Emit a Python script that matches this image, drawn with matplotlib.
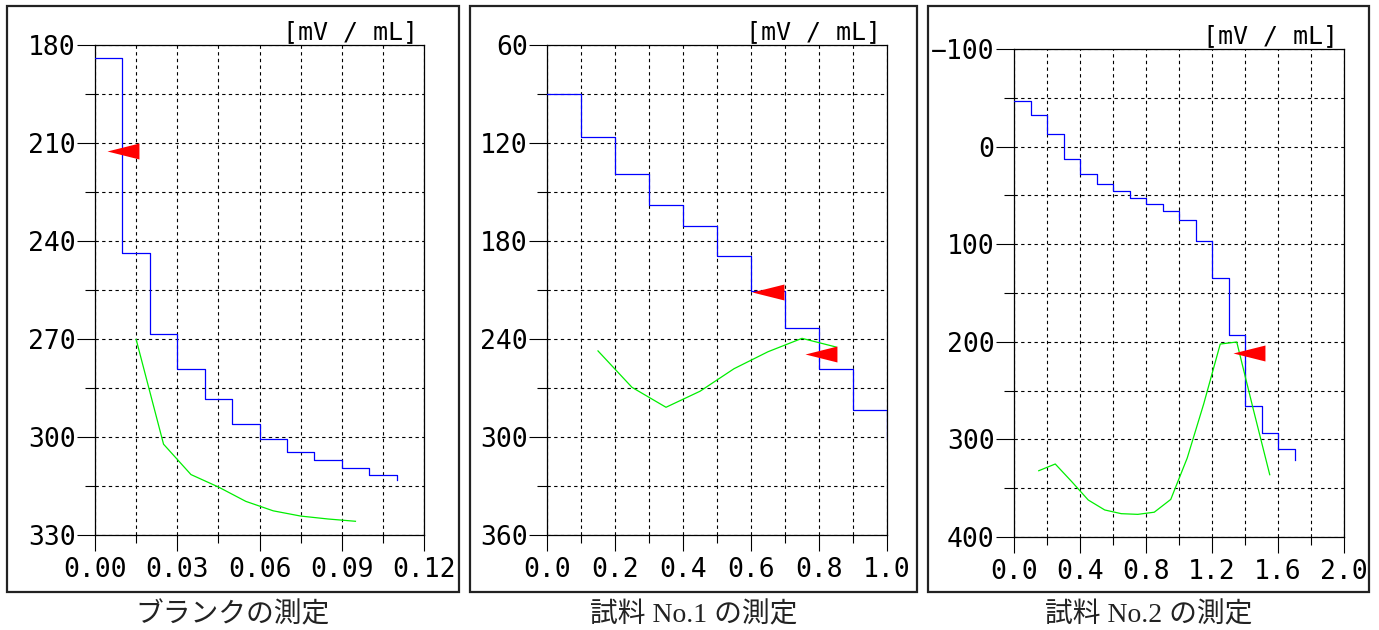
import matplotlib
matplotlib.use("Agg")
import matplotlib.pyplot as plt
from matplotlib.path import Path
from matplotlib.patches import Rectangle
from matplotlib.ticker import MultipleLocator, FuncFormatter

# ブランクの測定
blank_step_x = [0.00, 0.01, 0.02, 0.03, 0.04, 0.05, 0.06, 0.07, 0.08, 0.09, 0.10, 0.11]
blank_step_y = [184.1, 243.6, 268.5, 279.2, 288.4, 296.0, 300.6, 304.6, 307.1, 309.6, 311.6, 313.2]
blank_curve_x = [0.015, 0.025, 0.035, 0.045, 0.055, 0.065, 0.075, 0.085, 0.095]
blank_curve_y = [270.1, 302.2, 311.5, 315.3, 319.7, 322.6, 324.2, 325.1, 325.8]
blank_mark_x = [0.0045]
blank_mark_y = [212.4]

# 試料 No.1
s1_step_x = [0.0, 0.1, 0.2, 0.3, 0.4, 0.5, 0.6, 0.7, 0.8, 0.9, 1.0]
s1_step_y = [89.8, 116.3, 139.0, 158.0, 171.0, 189.4, 210.6, 233.5, 258.6, 283.5, 301.4]
s1_curve_x = [0.15, 0.25, 0.35, 0.45, 0.55, 0.65, 0.75, 0.85]
s1_curve_y = [247.3, 269.6, 281.8, 272.0, 258.2, 247.8, 239.6, 244.9]
s1_mark_x = [0.602, 0.759]
s1_mark_y = [211.2, 249.2]

# 試料 No.2
s2_step_x = [0.0, 0.1, 0.2, 0.3, 0.4, 0.5, 0.6, 0.7, 0.8, 0.9,
             1.0, 1.1, 1.2, 1.3, 1.4, 1.5, 1.6, 1.7]
s2_step_y = [-46.7, -32.0, -12.6, 12.7, 27.8, 38.0, 45.5, 52.7, 58.5, 66.0,
             75.2, 96.4, 134.3, 193.4, 265.5, 293.1, 309.5, 321.1]
s2_curve_x = [0.15, 0.25, 0.35, 0.45, 0.55, 0.65, 0.75, 0.85, 0.95,
              1.05, 1.15, 1.25, 1.35, 1.45, 1.55]
s2_curve_y = [332.1, 325.2, 343.3, 362.1, 372.3, 376.1, 376.8, 374.6, 361.5,
              319.0, 263.5, 202.3, 200.2, 269.0, 336.2]
s2_mark_x = [1.329]
s2_mark_y = [211.8]

captions = ["ブランクの測定", "試料 No.1 の測定", "試料 No.2 の測定"]
unit = "[mV / mL]"

W, H = 1379, 630
fig = plt.figure(figsize=(W / 100, H / 100), dpi=100)

# left-pointing flag, tip at the data point
flag = Path([(0, 0), (2, 0.5), (2, -0.5), (0, 0)],
            [Path.MOVETO, Path.LINETO, Path.LINETO, Path.CLOSEPOLY])

mono = "DejaVu Sans Mono"


def yfmt(v, pos):
    return str(int(round(v))).replace("-", "\u2212")


def panel(box, frame, sx, sy, cx, cy, mx, my, xlim, ylim,
          xmaj, xmin, ymaj, ymin, xdec, caption):
    l, t, r, b = box
    ax = fig.add_axes([l / W, 1 - b / H, (r - l) / W, (b - t) / H])
    ax.step(sx, sy, where="post", color="#0000ff", lw=0.9, zorder=3)
    ax.plot(cx, cy, color="#00ee00", lw=0.9, zorder=3)
    ax.plot(mx, my, ls="none", marker=flag, markersize=46,
            color="#ff0000", mew=0, zorder=4)
    ax.set_xlim(*xlim)
    ax.set_ylim(ylim[1], ylim[0])
    ax.xaxis.set_major_locator(MultipleLocator(xmaj))
    ax.xaxis.set_minor_locator(MultipleLocator(xmin))
    ax.yaxis.set_major_locator(MultipleLocator(ymaj))
    ax.yaxis.set_minor_locator(MultipleLocator(ymin))
    ax.xaxis.set_major_formatter(FuncFormatter(lambda v, p: f"{v:.{xdec}f}"))
    ax.yaxis.set_major_formatter(FuncFormatter(yfmt))
    ax.grid(which="both", color="k", linestyle=(0, (3, 3)), linewidth=0.8)
    ax.tick_params(axis="y", which="major", length=13, width=0.8, pad=1)
    ax.tick_params(axis="y", which="minor", length=7, width=0.8)
    ax.tick_params(axis="x", which="major", length=11.5, width=0.8, pad=4.5)
    ax.tick_params(axis="x", which="minor", length=6, width=0.8)
    for lab in ax.get_xticklabels() + ax.get_yticklabels():
        lab.set_fontfamily(mono)
        lab.set_fontsize(19)
    for s in ax.spines.values():
        s.set_linewidth(0.9)
    ax.annotate(unit, xy=(1, 1), xycoords="axes fraction", xytext=(-4, 1),
                textcoords="offset points", ha="right", va="bottom",
                fontsize=18, family=mono)

    fl, ft, fr, fb = frame
    fig.add_artist(Rectangle((fl / W, 1 - fb / H), (fr - fl) / W, (fb - ft) / H,
                             transform=fig.transFigure, fill=False,
                             lw=1.6, ec="#222222"))
    fig.text((fl + fr) / 2 / W, 1 - 615 / H, caption, ha="center", va="center",
             fontsize=20, color="#222222",
             family=["Liberation Serif", "Noto Sans CJK JP"])


panel((95, 45, 424, 535), (7, 6, 459, 592),
      blank_step_x, blank_step_y, blank_curve_x, blank_curve_y,
      blank_mark_x, blank_mark_y, (0, 0.12), (180, 330),
      0.03, 0.015, 30, 15, 2, captions[0])
panel((547, 45, 887, 535), (470, 6, 917, 592),
      s1_step_x, s1_step_y, s1_curve_x, s1_curve_y,
      s1_mark_x, s1_mark_y, (0, 1.0), (60, 360),
      0.2, 0.1, 60, 30, 1, captions[1])
panel((1014, 49, 1344, 537), (928, 6, 1369, 592),
      s2_step_x, s2_step_y, s2_curve_x, s2_curve_y,
      s2_mark_x, s2_mark_y, (0, 2.0), (-100, 400),
      0.4, 0.2, 100, 50, 1, captions[2])

fig.savefig("out.png", dpi=100)
